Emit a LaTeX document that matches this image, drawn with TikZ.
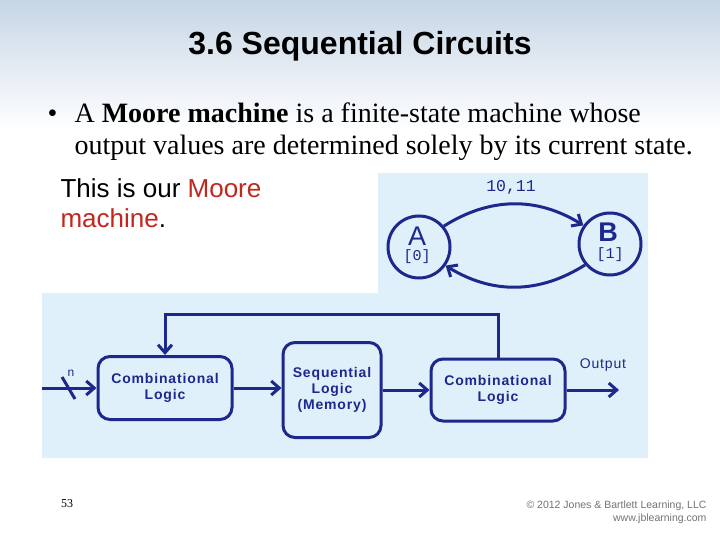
\documentclass[tikz,border=0pt]{standalone}
\usepackage{fontspec}
\setmainfont{Liberation Serif}
\setsansfont{Liberation Sans}
\setmonofont{Liberation Mono}
\newfontfamily\diagfont[LetterSpace=6]{Liberation Sans}
\usetikzlibrary{arrows.meta}
\usetikzlibrary{positioning}

\definecolor{navy}{RGB}{28,40,140}
\definecolor{panelblue}{RGB}{224,240,251}
\definecolor{slidetop}{RGB}{198,214,229}
\definecolor{mooreRed}{RGB}{192,40,30}

\tikzset{
  wire/.style={navy, line width=3pt},
  flow/.style={wire, -{Straight Barb[length=8pt,width=14pt,line width=3pt]}},
  blockbox/.style={draw=navy, line width=3pt, rounded corners=12pt,
    text=navy, align=center, font=\diagfont\bfseries\fontsize{14}{16}\selectfont},
  statecircle/.style={circle, draw=navy, line width=3pt, minimum size=62pt, inner sep=0pt},
  statename/.style={text=navy, inner sep=0pt, font=\sffamily\fontsize{27}{27}\selectfont},
  stateout/.style={text=navy, inner sep=0pt, font=\ttfamily\fontsize{15}{15}\selectfont}
}

\begin{document}
\begin{tikzpicture}[x=1pt, y=-1pt]
  \useasboundingbox (0,0) rectangle (720,540);

  % 背景
  \fill[white] (0,0) rectangle (720,540);
  \shade[top color=slidetop, bottom color=white] (0,0) rectangle (720,130);

  % タイトル
  \node (title) at (360,46) {\sffamily\bfseries\fontsize{32}{36}\selectfont 3.6 Sequential Circuits};

  % 本文
  \node[anchor=base west] (bullet) at (44,123) {\fontsize{28}{32}\selectfont •};
  \node[anchor=base west] (line1) at (71,123)
    {\fontsize{28}{32}\selectfont A \textbf{Moore machine} is a finite-state machine whose};
  \node[anchor=base west] (line2) at (71,155)
    {\fontsize{28}{32}\selectfont output values are determined solely by its current state.};

  % 説明
  \node[anchor=base west] (note1) at (57,197)
    {\sffamily\fontsize{26}{30}\selectfont This is our \textcolor{mooreRed}{Moore}};
  \node[anchor=base west] (note2) at (57,227)
    {\sffamily\fontsize{26}{30}\selectfont \textcolor{mooreRed}{machine}.};

  % 図の背景
  \fill[panelblue] (378,173) -| (648,458) -| (42,293) -| cycle;

  % 状態図
  \node[statecircle] (stA) at (419,247) {};
  \node[statecircle] (stB) at (610,244) {};
  \node[statename] (nameA) at (417,236) {A};
  \node[stateout] (outA) at (417,257) {[0]};
  \node[statename, font=\sffamily\bfseries\fontsize{27}{27}\selectfont] (nameB) at (608,232) {B};
  \node[stateout] (outB) at (610,255) {[1]};
  \draw[flow] (stA.40) to[bend left=32] (stB.145);
  \draw[flow] (stB.220) to[bend left=32] (stA.-35);
  \node[text=navy] (edgeLbl) at (511,187) {\ttfamily\fontsize{16.5}{16}\selectfont 10,11};

  % ブロック図
  \node[blockbox, minimum width=134pt, minimum height=63pt] (combIn) at (165,388)
    {Combinational\\Logic};
  \node[blockbox, minimum width=98pt, minimum height=95pt] (seqMem) at (332,390)
    {Sequential\\Logic\\(Memory)};
  \node[blockbox, minimum width=134pt, minimum height=62pt] (combOut) at (498,390)
    {Combinational\\Logic};

  % 入出力
  \coordinate (inStart) at (42,388);
  \coordinate (outEnd) at (619,390);
  \draw[flow] (inStart) -- (combIn.west);
  \draw[wire] (62,377) -- (75,399);
  \node[text=navy] (busN) at (71,373) {\diagfont\fontsize{12}{12}\selectfont n};
  \draw[flow] (combIn.east) -- (seqMem.west |- combIn.east);
  \draw[flow] (seqMem.east |- combOut.west) -- (combOut.west);
  \draw[flow] (combOut.east) -- (outEnd);
  \node[text=navy] (outLbl) at (603,365) {\diagfont\fontsize{14}{14}\selectfont Output};

  % フィードバック
  \draw[flow] (combOut.north) -- ++(0,-43) -| (combIn.north);

  % フッター
  \node (pageNo) at (67,504) {\fontsize{12}{12}\selectfont 53};
  \node[anchor=east, text=black!55, align=right, font=\sffamily\fontsize{10.5}{13}\selectfont] (copyr) at (710,512)
    {© 2012 Jones \& Bartlett Learning, LLC\\www.jblearning.com};
\end{tikzpicture}
\end{document}
